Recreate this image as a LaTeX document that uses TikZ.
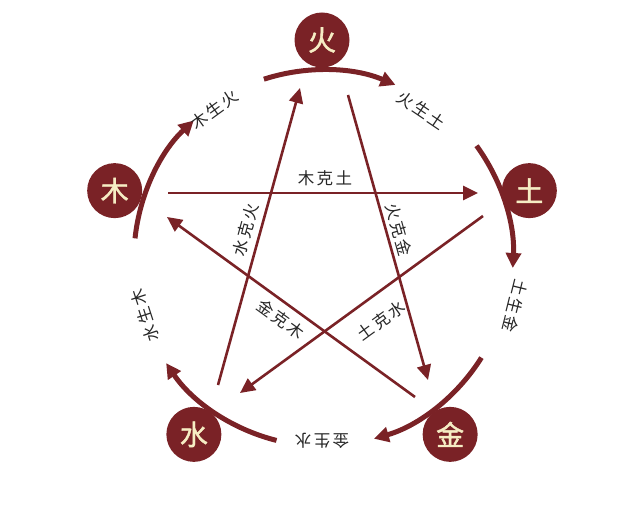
\documentclass[tikz,border=0pt]{standalone}
\usepackage{fontspec}
\setmainfont{Noto Sans CJK SC}
\newfontfamily\cjkb[FakeBold=1.5]{Noto Sans CJK SC}
\newfontfamily\labf[LetterSpace=14]{Noto Sans CJK SC}
\usetikzlibrary{arrows.meta,calc}
\definecolor{wred}{HTML}{7A2226}
\definecolor{wcream}{HTML}{F6EDC4}
\tikzset{
  elem/.style={circle,fill=wred,minimum size=55pt,inner sep=0pt,text=wcream,font=\cjkb\fontsize{28}{28}\selectfont},
  ring/.style={draw=wred,line width=5pt,-{Triangle[length=15pt,width=15pt]}},
  starl/.style={draw=wred,line width=2.6pt,-{Triangle[length=15pt,width=14pt]}},
  lab/.style={font=\labf\fontsize{16.5}{16.5}\selectfont,text=black!85,inner sep=1pt}
}
\begin{document}
\begin{tikzpicture}[x=1pt,y=1pt]
\useasboundingbox (0,0) rectangle (617,506);
\coordinate (C) at (322,248);
\node[elem] (huo) at ($(C)+(90:218)$) {火};
\node[elem] (tu) at ($(C)+(18:218)$) {土};
\node[elem] (jin) at ($(C)+(-54:218)$) {金};
\node[elem] (shui) at ($(C)+(-126:218)$) {水};
\node[elem] (mu) at ($(C)+(162:218)$) {木};
% ring arcs
\draw[ring] ($(C)+(108:188)$) arc[start angle=108,end angle=67,radius=188];
\draw[ring] ($(C)+(36:191)$) arc[start angle=36,end angle=-3,radius=191];
\draw[ring] ($(C)+(-32:188)$) arc[start angle=-32,end angle=-74,radius=188];
\draw[ring] ($(C)+(-104:188)$) arc[start angle=-104,end angle=-146,radius=188];
\draw[ring] ($(C)+(174:188)$) arc[start angle=174,end angle=133,radius=188];
% ring labels
\node[lab,rotate=-34] (l1) at ($(C)+(56:178)$) {火生土};
\node[lab,rotate=-104] (l2) at ($(C)+(-14:199)$) {土生金};
\node[lab,rotate=180] (l3) at ($(C)+(-90:183)$) {金生水};
\node[lab,rotate=108] (l4) at ($(C)+(198:186)$) {水生木};
\node[lab,rotate=36] (l5) at ($(C)+(126:183)$) {木生火};
% star
\coordinate (a1) at (168,313); \coordinate (a2) at (478,313);
\coordinate (b1) at (218,121); \coordinate (b2) at (300,418);
\coordinate (c1) at (348,411); \coordinate (c2) at (428,126);
\coordinate (d1) at (483,290); \coordinate (d2) at (240,113);
\coordinate (e1) at (415,109); \coordinate (e2) at (167,289);
\draw[starl] (a1) -- (a2);
\draw[starl] (b1) -- (b2);
\draw[starl] (c1) -- (c2);
\draw[starl] (d1) -- (d2);
\draw[starl] (e1) -- (e2);
\node[lab] (k1) at (325,328) {木克土};
\node[lab,rotate=74.6] (k2) at (246,276) {水克火};
\node[lab,rotate=-74.3] (k3) at (399,276) {火克金};
\node[lab,rotate=-36] (k4) at (281,187) {金克木};
\node[lab,rotate=36] (k5) at (381,185) {土克水};
\end{tikzpicture}
\end{document}
